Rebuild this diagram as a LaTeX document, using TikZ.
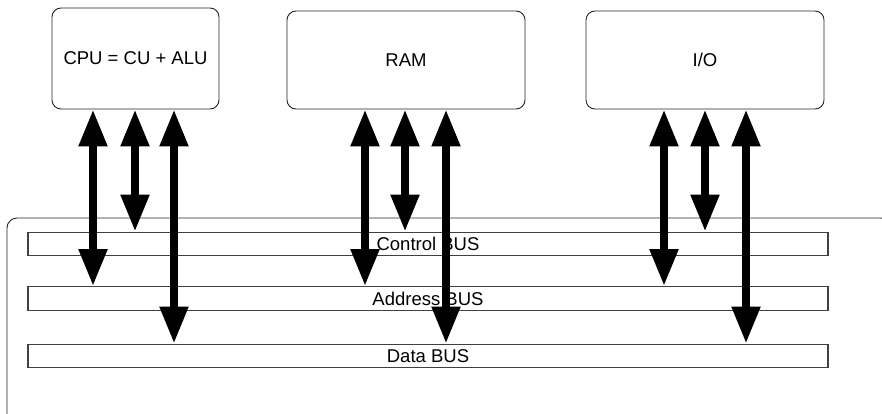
\documentclass[tikz,border=0pt]{standalone}
\usepackage{fontspec}
\setmainfont{Liberation Sans}
\usetikzlibrary{arrows.meta}
\begin{document}
\begin{tikzpicture}[x=1pt,y=-1pt,
  unit/.style={draw=black!85,line width=0.9pt,rounded corners=9pt,inner sep=0pt,
    font=\fontsize{18.5}{20}\selectfont},
  busbar/.style={draw=black!75,line width=1.3pt,minimum width=800pt,minimum height=23.5pt,
    inner sep=0pt,font=\fontsize{18.5}{20}\selectfont},
  frame/.style={draw=black!85,line width=0.9pt,rounded corners=10pt},
  link/.style={line width=8pt,{Triangle[length=37pt,width=27pt]}-{Triangle[length=37pt,width=27pt]}}]
\useasboundingbox (0,0) rectangle (882,414);
\clip (0,0) rectangle (882,414);
\fill[white] (0,0) rectangle (882,414);
\draw[frame] (7,218) rectangle (891,430);

\node[unit,minimum width=167pt,minimum height=101pt] (cpu) at (135.5,58.5) {CPU = CU + ALU};
\node[unit,minimum width=238pt,minimum height=98pt] (ram) at (406,60) {RAM};
\node[unit,minimum width=238pt,minimum height=98pt] (io) at (705,60) {I/O};

\node[busbar] (ctrl) at (428,244) {Control BUS};
\node[busbar] (addr) at (428,298.5) {Address BUS};
\node[busbar] (data) at (428,356) {Data BUS};

\foreach \n/\x in {c1/93,c2/135,c3/174,r1/365,r2/405,r3/446,i1/664,i2/705,i3/746}
  \coordinate (\n) at (\x,0);

\draw[link] (cpu.south -| c1) -- (addr.north -| c1);
\draw[link] (cpu.south -| c2) -- (ctrl.north -| c2);
\draw[link] (cpu.south -| c3) -- (data.north -| c3);
\draw[link] (ram.south -| r1) -- (addr.north -| r1);
\draw[link] (ram.south -| r2) -- (ctrl.north -| r2);
\draw[link] (ram.south -| r3) -- (data.north -| r3);
\draw[link] (io.south -| i1) -- (addr.north -| i1);
\draw[link] (io.south -| i2) -- (ctrl.north -| i2);
\draw[link] (io.south -| i3) -- (data.north -| i3);
\end{tikzpicture}
\end{document}
